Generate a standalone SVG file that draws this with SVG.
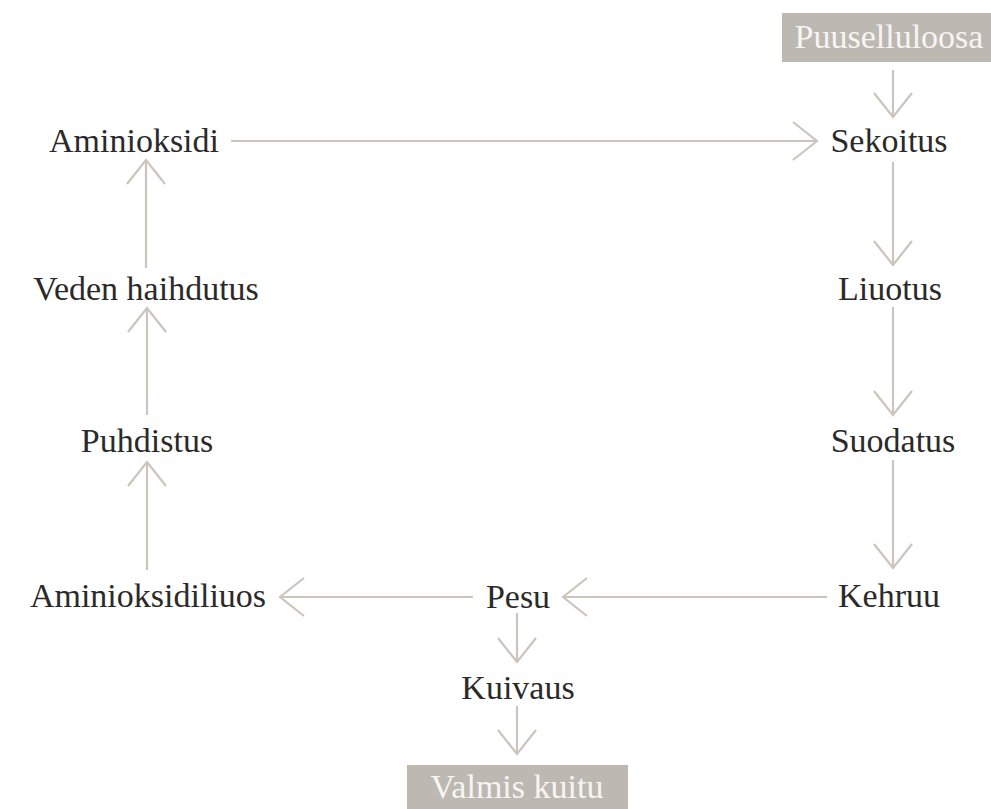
<svg xmlns="http://www.w3.org/2000/svg" width="991" height="809" viewBox="0 0 991 809">
<style>
.t{font-size:34px;fill:#2b2a29;text-anchor:middle}
.bt{font-size:34px;fill:#f7f5f2;text-anchor:middle}
.box{fill:#bdb8b2}
.c{stroke:#cbc5be;stroke-width:2.2;fill:none}
</style>
<defs>
<marker id="ah" markerUnits="userSpaceOnUse" markerWidth="60" markerHeight="60" viewBox="-30 -30 60 60" refX="0" refY="0" orient="auto" overflow="visible">
<path d="M-24,-19 L0,0 L-24,19" fill="none" stroke="#cbc5be" stroke-width="2.2"/>
</marker>
</defs>
<rect width="991" height="809" fill="#ffffff"/>
<g id="connectors">
<line class="c" x1="893" y1="70" x2="893" y2="117" marker-end="url(#ah)"/>
<line class="c" x1="231" y1="141" x2="817" y2="141" marker-end="url(#ah)"/>
<line class="c" x1="893" y1="162" x2="893" y2="265" marker-end="url(#ah)"/>
<line class="c" x1="893" y1="307" x2="893" y2="415" marker-end="url(#ah)"/>
<line class="c" x1="893" y1="460" x2="893" y2="568" marker-end="url(#ah)"/>
<line class="c" x1="827" y1="597" x2="563" y2="597" marker-end="url(#ah)"/>
<line class="c" x1="473" y1="597" x2="280" y2="597" marker-end="url(#ah)"/>
<line class="c" x1="147" y1="570" x2="147" y2="462" marker-end="url(#ah)"/>
<line class="c" x1="147" y1="415" x2="147" y2="308" marker-end="url(#ah)"/>
<line class="c" x1="146" y1="268" x2="146" y2="160" marker-end="url(#ah)"/>
<line class="c" x1="517" y1="613" x2="517" y2="662" marker-end="url(#ah)"/>
<line class="c" x1="517" y1="706" x2="517" y2="754" marker-end="url(#ah)"/>
</g>
<g font-family="'Liberation Serif', 'Times New Roman', serif">
<g id="puuselluloosa"><rect class="box" x="782" y="13" width="215" height="49"/><text class="bt" x="889" y="48">Puuselluloosa</text></g>
<g id="sekoitus"><text class="t" x="889" y="152">Sekoitus</text></g>
<g id="aminioksidi"><text class="t" x="134" y="152">Aminioksidi</text></g>
<g id="liuotus"><text class="t" x="890" y="300">Liuotus</text></g>
<g id="veden-haihdutus"><text class="t" x="146" y="300">Veden haihdutus</text></g>
<g id="suodatus"><text class="t" x="893" y="452">Suodatus</text></g>
<g id="puhdistus"><text class="t" x="147" y="452">Puhdistus</text></g>
<g id="kehruu"><text class="t" x="889" y="607">Kehruu</text></g>
<g id="pesu"><text class="t" x="518" y="608">Pesu</text></g>
<g id="aminioksidiliuos"><text class="t" x="148" y="607">Aminioksidiliuos</text></g>
<g id="kuivaus"><text class="t" x="518" y="699">Kuivaus</text></g>
<g id="valmis-kuitu"><rect class="box" x="407" y="765" width="221" height="44"/><text class="bt" x="517" y="798">Valmis kuitu</text></g>
</g>
</svg>
